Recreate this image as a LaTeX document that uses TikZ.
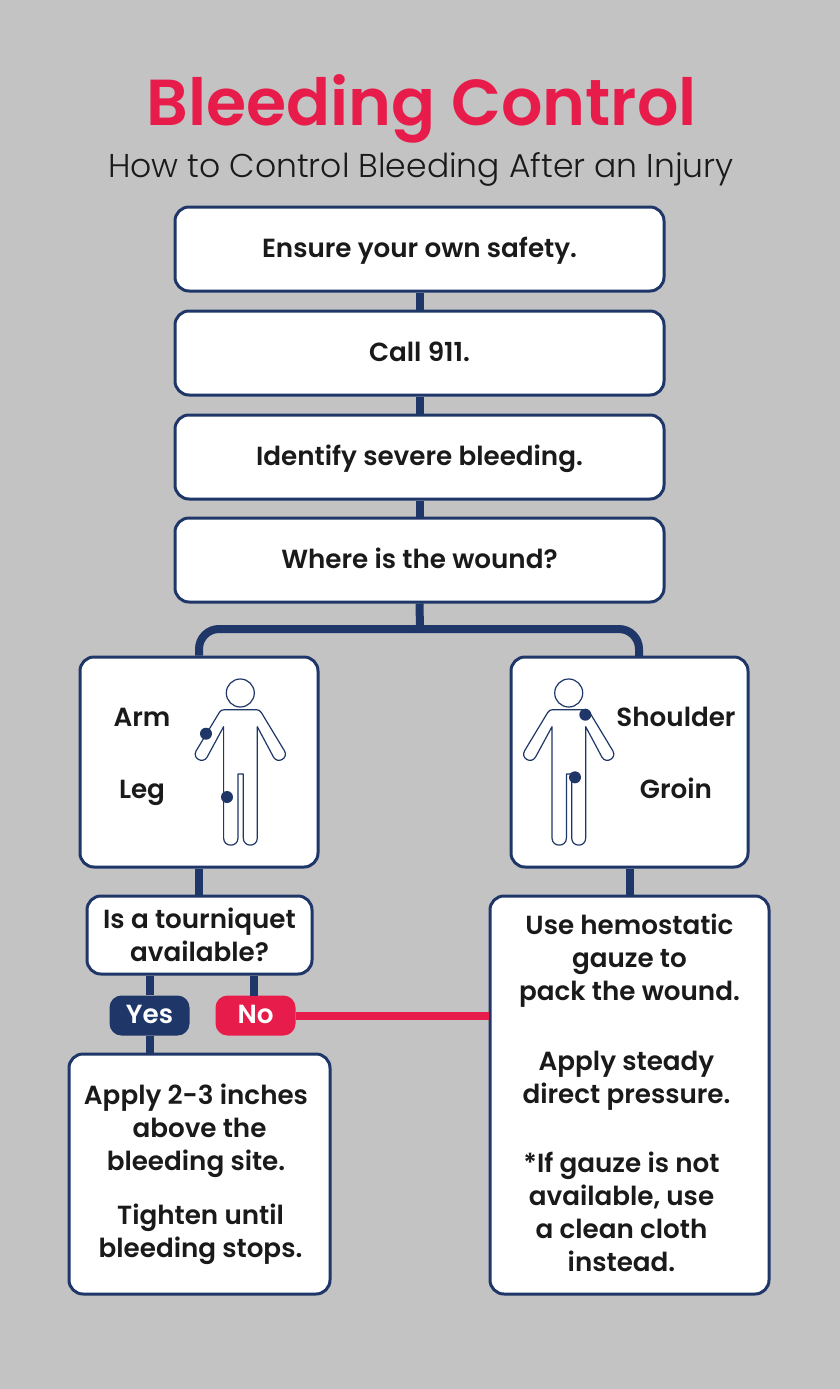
\documentclass[tikz,border=0pt]{standalone}
\usepackage{fontspec}
\setmainfont{Poppins}
\newfontfamily\semi{Poppins SemiBold}
\newfontfamily\lite{Poppins Light}
\usetikzlibrary{calc}
\definecolor{navy}{HTML}{1F3768}
\definecolor{redc}{HTML}{E81C4A}
\definecolor{bgc}{HTML}{C3C3C3}
\definecolor{ink}{HTML}{1A1A1A}
\newcommand{\bodytxt}{\semi\fontsize{26.2}{33}\selectfont}
\newcommand{\gline}[2]{\hspace*{#1pt}\hspace*{#1pt}\raisebox{4.5pt}{#2}}
\newcommand{\aline}[2]{\hspace*{#1pt}\hspace*{#1pt}#2}
\tikzset{
  x=1pt,y=-1pt,
  boxn/.style={draw=navy,line width=3pt,fill=white,rounded corners=14pt,inner sep=0pt,align=center,text=ink,font=\bodytxt},
  onel/.style={boxn,minimum width=489pt,minimum height=84pt,text height=16pt,text depth=0pt},
  tag/.style={rounded corners=12pt,inner sep=0pt,minimum width=80pt,minimum height=40pt,text=white,font=\bodytxt,text height=15pt,text depth=0pt},
  lab/.style={inner sep=0pt,anchor=base,text=ink,font=\bodytxt},
  conn/.style={draw=navy,line width=8pt},
  hurt/.style={fill=navy,draw=none},
  figline/.style={draw=navy,line width=1.2pt,fill=white},
}
\newcommand{\person}[1]{%
  \begin{scope}[shift={(#1)}]
    \draw[figline] (0,0) circle[radius=14];
    \draw[figline,line join=round]
      (-16,16.7) -- (16,16.7) .. controls (18,16.7) and (20,17.5) .. (21,19.5)
      -- (44.2,57.9) .. controls (48.4,65.2) and (37.4,71.4) .. (33.2,64.1)
      -- (17,33.7) -- (17,145) .. controls (17,154.5) and (3,154.5) .. (3,145)
      -- (3,81) -- (-2.3,81) -- (-2.3,145) .. controls (-2.3,154.5) and (-16.7,154.5) .. (-16.7,145)
      -- (-16.7,33.7) -- (-33.2,64.1) .. controls (-37.4,71.4) and (-48.4,65.2) .. (-44.2,57.9)
      -- (-21,19.5) .. controls (-20,17.5) and (-18,16.7) .. (-16,16.7) -- cycle;
  \end{scope}}
\begin{document}
\begin{tikzpicture}
\useasboundingbox (0,0) rectangle (840,1389);
\fill[bgc] (0,0) rectangle (840,1389);
\node[inner sep=0pt,anchor=base,text=redc,font=\semi\fontsize{65}{65}\selectfont] (title) at (421.5,125) {Bleeding Control};
\node[inner sep=0pt,anchor=base,text=ink,font=\lite\fontsize{33}{33}\selectfont] (sub) at (421,177) {How to Control Bleeding After an Injury};
% nodes
\foreach \n/\y/\t in {safe/249/Ensure your own safety.,call/353/Call 911.,iden/457/Identify severe bleeding.,where/560/Where is the wound?}
  \node[onel] (\n) at (419.5,\y) {\t};
\node[boxn,minimum width=238pt,minimum height=210pt] (armleg) at (199,762) {};
\node[boxn,minimum width=237pt,minimum height=210pt] (shgr) at (629.5,762) {};
\node[boxn,minimum width=225pt,minimum height=78pt] (tq) at (199.5,935) {Is a tourniquet\\available?};
\node[tag,fill=navy] (yes) at (149.5,1015.5) {Yes};
\node[tag,fill=redc] (no) at (255.5,1015.5) {No};
\node[boxn,minimum width=261pt,minimum height=240pt] (apply) at (199.5,1174) {\aline{-3.5}{Apply 2-3 inches}\\above the\\\aline{-3.5}{bleeding site.}\\[21pt]\aline{1}{Tighten until}\\\aline{1}{bleeding stops.}};
\node[boxn,minimum width=279pt,minimum height=398pt] (gauze) at (629.5,1095) {\gline{0}{Use hemostatic}\\\gline{0}{gauze to}\\\gline{0}{pack the wound.}\\[37pt]\gline{-3}{Apply steady}\\\gline{-3}{direct pressure.}\\[36pt]\gline{-8}{*If gauze is not}\\\gline{-8}{available, use}\\\gline{-8}{a clean cloth}\\\gline{-8}{instead.}};
% connectors
\coordinate (fork) at (420,629);
\coordinate (rdrop) at (639,657);
\coordinate (nostem) at (254,996);
\draw[conn] (safe) -- (call);
\draw[conn] (call) -- (iden);
\draw[conn] (iden) -- (where);
\draw[conn] (where.south) -- (fork);
\draw[conn,rounded corners=20pt] (armleg.north) |- (fork) -| (rdrop);
\draw[conn] (armleg.south) -- (armleg.south |- tq.north);
\draw[conn] (shgr.south) -- (gauze.north);
\draw[conn] (yes.north |- tq.south) -- (yes.north);
\draw[conn] (nostem) -- (nostem |- tq.south);
\draw[conn] (yes.south) -- (yes.south |- apply.north);
\draw[draw=redc,line width=8pt] (no.east) -- (no.east -| gauze.west);
% figures
\person{240.3,693}
\person{568.7,693}
\fill[hurt] (206,733.7) circle[radius=6];
\fill[hurt] (227,797) circle[radius=6];
\fill[hurt] (585.3,714.7) circle[radius=6];
\fill[hurt] (575,777.3) circle[radius=6];
\node[lab] (arm) at (142,726) {Arm};
\node[lab] (leg) at (142,798) {Leg};
\node[lab] (shoulder) at (676,726) {Shoulder};
\node[lab] (groin) at (676,798) {Groin};
\end{tikzpicture}
\end{document}
